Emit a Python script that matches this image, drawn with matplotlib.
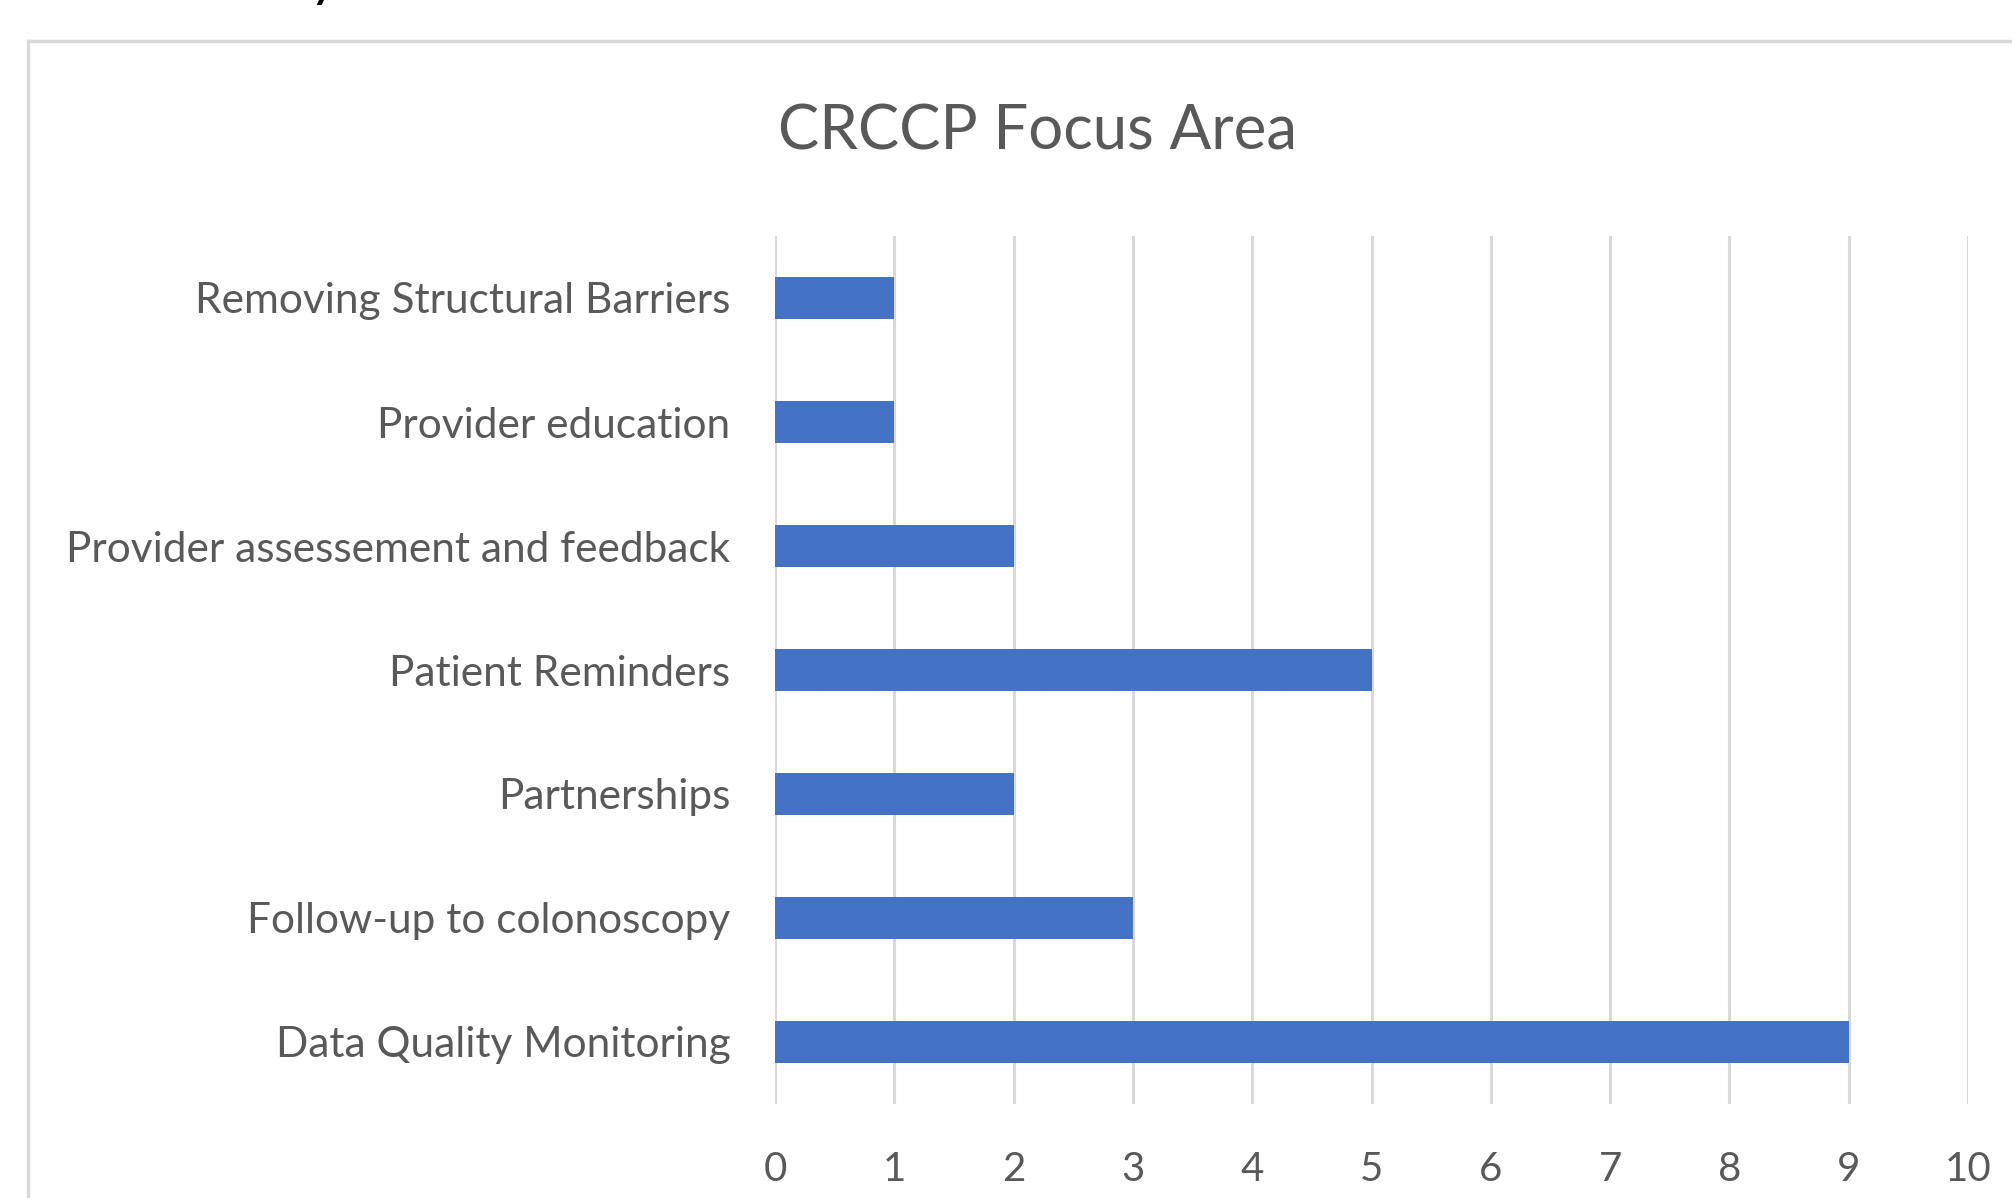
import matplotlib
matplotlib.use("Agg")
import matplotlib.pyplot as plt
from matplotlib.lines import Line2D

categories = [
    "Data Quality Monitoring",
    "Follow-up to colonoscopy",
    "Partnerships",
    "Patient Reminders",
    "Provider assessement and feedback",
    "Provider education",
    "Removing Structural Barriers",
]
values = [9, 3, 2, 5, 2, 1, 1]
x_ticks = list(range(0, 11))
title = "CRCCP Focus Area"

W, H = 2012, 1198
fig = plt.figure(figsize=(W / 100, H / 100), dpi=100)
plt.rcParams['font.family'] = ['Lato', 'DejaVu Sans']

txt_color = "#595959"
grid_color = "#d9d9d9"
bar_color = "#4472C4"

ax = fig.add_axes([775 / W, 1 - 1104 / H, 1193 / W, 868 / H])
ax.barh(range(len(categories)), values, height=0.34, color=bar_color, zorder=3)
ax.set_xlim(0, 10)
ax.set_ylim(-0.5, len(categories) - 0.5)
ax.set_xticks(x_ticks)
ax.set_xticklabels([str(t) for t in x_ticks])
ax.set_yticks(range(len(categories)))
ax.set_yticklabels(categories)
for s in ax.spines.values():
    s.set_visible(False)
ax.tick_params(axis='y', length=0, colors=txt_color, labelsize=30.5, pad=32)
ax.tick_params(axis='x', length=0, colors=txt_color, labelsize=29, pad=34)
ax.xaxis.grid(True, color=grid_color, linewidth=2.2, zorder=0)
ax.set_axisbelow(True)

fig.text(1037 / W, 1 - 132 / H, title, ha='center', va='center',
         fontsize=44.5, color=txt_color)

# outer chart border (partially cropped)
fig.add_artist(Line2D([28 / W, 28 / W], [0, 1 - 41 / H], transform=fig.transFigure,
                      color=grid_color, linewidth=2.5))
fig.add_artist(Line2D([28 / W, 1], [1 - 41 / H, 1 - 41 / H], transform=fig.transFigure,
                      color=grid_color, linewidth=2.5))

# cropped heading fragment at the very top
fig.text(312 / W, 1 + 2 / H, "y", ha='left', va='baseline', fontsize=30,
         fontweight='bold', color='black')

fig.savefig("out.png", dpi=100, facecolor='white')
